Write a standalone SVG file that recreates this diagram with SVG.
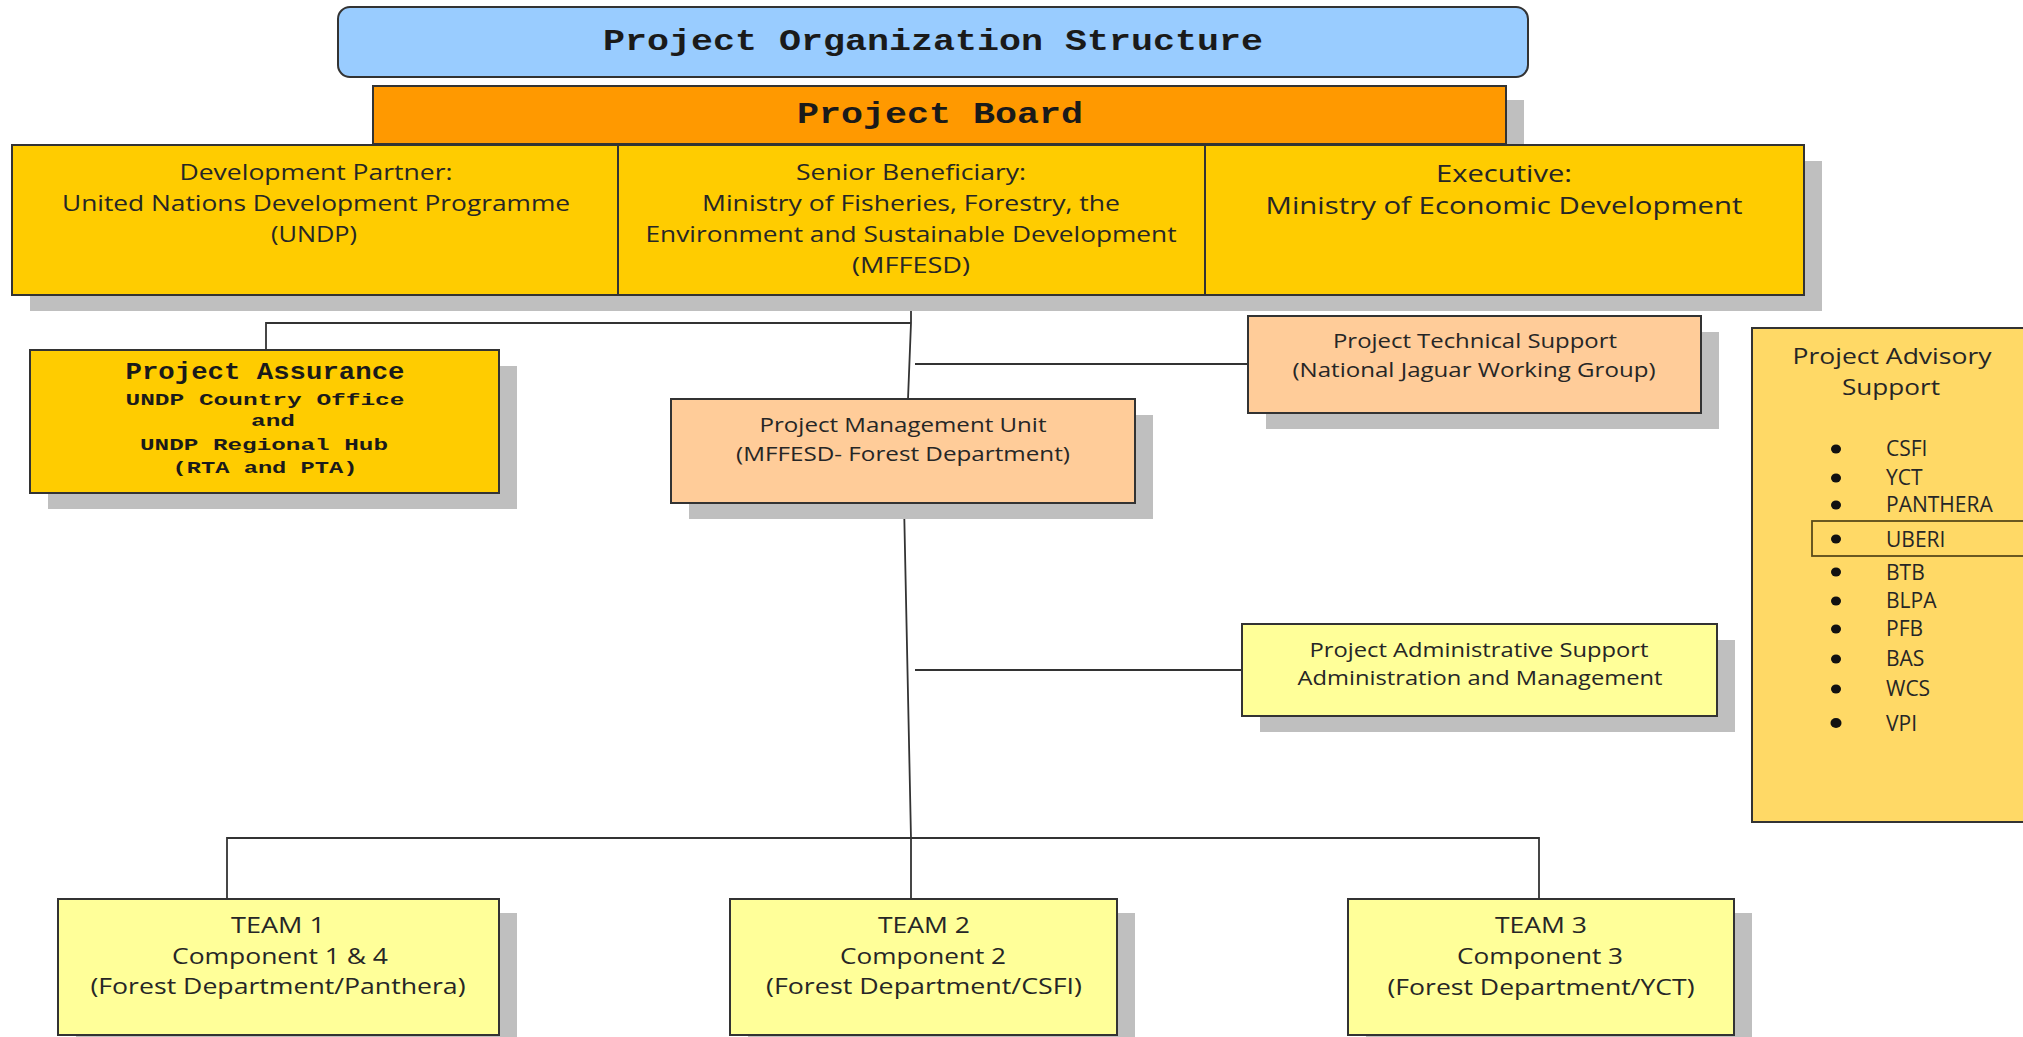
<svg xmlns="http://www.w3.org/2000/svg" width="2023" height="1037" viewBox="0 0 2023 1037">
<style>
.sh{fill:#BFBFBF}
.bx{stroke:#333;stroke-width:2}
.t{font-family:"Open Sans","Noto Sans",sans-serif;fill:#262626;text-anchor:middle}
.m{font-family:"Liberation Mono","DejaVu Sans Mono",monospace;font-weight:bold;fill:#1a1a1a;text-anchor:middle}
.ln{fill:none;stroke:#333;stroke-width:1.8}
.it{font-family:"Open Sans","Noto Sans",sans-serif;fill:#262626;font-size:21px}
</style>
<rect width="2023" height="1037" fill="#fff"/>

<g id="connectors">
<path class="ln" d="M911 295 L911 323 L908 399"/>
<path class="ln" d="M911 323 L266 323 L266 350"/>
<path class="ln" d="M915 364 L1248 364"/>
<path class="ln" d="M904 503 L911 838 L911 899"/>
<path class="ln" d="M915 670 L1242 670"/>
<path class="ln" d="M227 899 L227 838 L1539 838 L1539 899"/>
</g>

<g id="title">
<rect x="338" y="7" width="1190" height="70" rx="12" fill="#99CCFF" class="bx"/>
<text class="m" x="933" y="50" font-size="29" textLength="660" lengthAdjust="spacingAndGlyphs">Project Organization Structure</text>
</g>

<g id="board">
<rect class="sh" x="391" y="100" width="1133" height="58"/>
<rect x="373" y="86" width="1133" height="58" fill="#FF9900" class="bx"/>
<text class="m" x="940" y="123" font-size="29" textLength="286" lengthAdjust="spacingAndGlyphs">Project Board</text>
</g>

<g id="dev-partner">
<rect class="sh" x="30" y="161" width="606" height="150"/>
<rect x="12" y="145" width="606" height="150" fill="#FFCC00" class="bx"/>
<text class="t" font-size="22" x="316" y="180" textLength="273" lengthAdjust="spacingAndGlyphs">Development Partner:</text>
<text class="t" font-size="22" x="316" y="211" textLength="508" lengthAdjust="spacingAndGlyphs">United Nations Development Programme</text>
<text class="t" font-size="22" x="314" y="242" textLength="86" lengthAdjust="spacingAndGlyphs">(UNDP)</text>
</g>

<g id="senior-beneficiary">
<rect class="sh" x="636" y="161" width="587" height="150"/>
<rect x="618" y="145" width="587" height="150" fill="#FFCC00" class="bx"/>
<text class="t" font-size="22" x="911" y="180" textLength="230" lengthAdjust="spacingAndGlyphs">Senior Beneficiary:</text>
<text class="t" font-size="22" x="911" y="211" textLength="418" lengthAdjust="spacingAndGlyphs">Ministry of Fisheries, Forestry, the</text>
<text class="t" font-size="22" x="911" y="242" textLength="531" lengthAdjust="spacingAndGlyphs">Environment and Sustainable Development</text>
<text class="t" font-size="22" x="911" y="273" textLength="118" lengthAdjust="spacingAndGlyphs">(MFFESD)</text>
</g>

<g id="executive">
<rect class="sh" x="1223" y="161" width="599" height="150"/>
<rect x="1205" y="145" width="599" height="150" fill="#FFCC00" class="bx"/>
<text class="t" font-size="23" x="1504" y="182" textLength="136" lengthAdjust="spacingAndGlyphs">Executive:</text>
<text class="t" font-size="23" x="1504" y="214" textLength="477" lengthAdjust="spacingAndGlyphs">Ministry of Economic Development</text>
</g>

<g id="project-assurance">
<rect class="sh" x="48" y="366" width="469" height="143"/>
<rect x="30" y="350" width="469" height="143" fill="#FFCC00" class="bx"/>
<text class="m" font-size="24" x="265" y="379" textLength="279" lengthAdjust="spacingAndGlyphs">Project Assurance</text>
<text class="m" font-size="17" x="265" y="405" textLength="279" lengthAdjust="spacingAndGlyphs">UNDP Country Office</text>
<text class="m" font-size="17" x="273" y="426" textLength="44" lengthAdjust="spacingAndGlyphs">and</text>
<text class="m" font-size="17" x="264" y="450" textLength="248" lengthAdjust="spacingAndGlyphs">UNDP Regional Hub</text>
<text class="m" font-size="17" x="265" y="473" textLength="185" lengthAdjust="spacingAndGlyphs">(RTA and PTA)</text>
</g>

<g id="pmu">
<rect class="sh" x="689" y="415" width="464" height="104"/>
<rect x="671" y="399" width="464" height="104" fill="#FFCC99" class="bx"/>
<text class="t" font-size="20" x="903" y="432" textLength="287" lengthAdjust="spacingAndGlyphs">Project Management Unit</text>
<text class="t" font-size="20" x="903" y="461" textLength="334" lengthAdjust="spacingAndGlyphs">(MFFESD- Forest Department)</text>
</g>

<g id="technical-support">
<rect class="sh" x="1266" y="332" width="453" height="97"/>
<rect x="1248" y="316" width="453" height="97" fill="#FFCC99" class="bx"/>
<text class="t" font-size="20" x="1475" y="348" textLength="284" lengthAdjust="spacingAndGlyphs">Project Technical Support</text>
<text class="t" font-size="20" x="1474" y="377" textLength="363" lengthAdjust="spacingAndGlyphs">(National Jaguar Working Group)</text>
</g>

<g id="admin-support">
<rect class="sh" x="1260" y="640" width="475" height="92"/>
<rect x="1242" y="624" width="475" height="92" fill="#FFFF99" class="bx"/>
<text class="t" font-size="20" x="1479" y="657" textLength="339" lengthAdjust="spacingAndGlyphs">Project Administrative Support</text>
<text class="t" font-size="20" x="1480" y="685" textLength="365" lengthAdjust="spacingAndGlyphs">Administration and Management</text>
</g>

<g id="advisory-support">
<rect x="1752" y="328" width="300" height="494" fill="#FFD966" class="bx"/>
<text class="t" font-size="22" x="1892" y="364" textLength="199" lengthAdjust="spacingAndGlyphs">Project Advisory</text>
<text class="t" font-size="22" x="1891" y="395" textLength="98" lengthAdjust="spacingAndGlyphs">Support</text>
<rect x="1812" y="521" width="240" height="35" fill="none" stroke="#5a4a1a" stroke-width="1.8"/>
<g fill="#111">
<ellipse cx="1836" cy="449" rx="5" ry="4.5"/>
<ellipse cx="1836" cy="478" rx="5" ry="4.5"/>
<ellipse cx="1836" cy="505" rx="5" ry="4.5"/>
<ellipse cx="1836" cy="539" rx="5" ry="4.5"/>
<ellipse cx="1836" cy="572" rx="5" ry="4.5"/>
<ellipse cx="1836" cy="601" rx="5" ry="4.5"/>
<ellipse cx="1836" cy="629" rx="5" ry="4.5"/>
<ellipse cx="1836" cy="659" rx="5" ry="4.5"/>
<ellipse cx="1836" cy="689" rx="5" ry="4.5"/>
<ellipse cx="1836" cy="723" rx="5.5" ry="5"/>
</g>
<text class="it" x="1886" y="456">CSFI</text>
<text class="it" x="1886" y="485">YCT</text>
<text class="it" x="1886" y="512">PANTHERA</text>
<text class="it" x="1886" y="547">UBERI</text>
<text class="it" x="1886" y="580">BTB</text>
<text class="it" x="1886" y="608">BLPA</text>
<text class="it" x="1886" y="636">PFB</text>
<text class="it" x="1886" y="666">BAS</text>
<text class="it" x="1886" y="696">WCS</text>
<text class="it" x="1886" y="731">VPI</text>
</g>

<g id="team1">
<rect class="sh" x="76" y="913" width="441" height="136"/>
<rect x="58" y="899" width="441" height="136" fill="#FFFF99" class="bx"/>
<text class="t" font-size="21" x="278" y="933" textLength="94" lengthAdjust="spacingAndGlyphs">TEAM 1</text>
<text class="t" font-size="21" x="280" y="964" textLength="216" lengthAdjust="spacingAndGlyphs">Component 1 &amp; 4</text>
<text class="t" font-size="21" x="278" y="994" textLength="375" lengthAdjust="spacingAndGlyphs">(Forest Department/Panthera)</text>
</g>

<g id="team2">
<rect class="sh" x="748" y="913" width="387" height="136"/>
<rect x="730" y="899" width="387" height="136" fill="#FFFF99" class="bx"/>
<text class="t" font-size="21" x="924" y="933" textLength="92" lengthAdjust="spacingAndGlyphs">TEAM 2</text>
<text class="t" font-size="21" x="923" y="964" textLength="166" lengthAdjust="spacingAndGlyphs">Component 2</text>
<text class="t" font-size="21" x="924" y="994" textLength="316" lengthAdjust="spacingAndGlyphs">(Forest Department/CSFI)</text>
</g>

<g id="team3">
<rect class="sh" x="1366" y="913" width="386" height="136"/>
<rect x="1348" y="899" width="386" height="136" fill="#FFFF99" class="bx"/>
<text class="t" font-size="21" x="1541" y="933" textLength="92" lengthAdjust="spacingAndGlyphs">TEAM 3</text>
<text class="t" font-size="21" x="1540" y="964" textLength="166" lengthAdjust="spacingAndGlyphs">Component 3</text>
<text class="t" font-size="21" x="1541" y="995" textLength="307" lengthAdjust="spacingAndGlyphs">(Forest Department/YCT)</text>
</g>
</svg>
